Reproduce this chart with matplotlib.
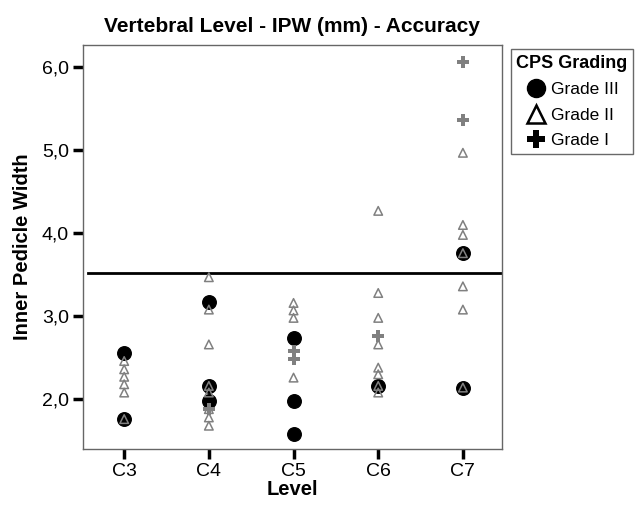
import matplotlib
matplotlib.use("Agg")
import matplotlib.pyplot as plt
from matplotlib.lines import Line2D

plt.rcParams['font.family'] = ['Liberation Sans', 'DejaVu Sans']

levels = ["C3", "C4", "C5", "C6", "C7"]

# Grade III (filled circles)
grade3 = {
    "C3": [2.56, 1.76],
    "C4": [3.17, 2.16, 1.98],
    "C5": [2.74, 1.98, 1.58],
    "C6": [2.16],
    "C7": [3.76, 2.14],
}
# Grade II (open triangles)
grade2 = {
    "C3": [2.46, 2.36, 2.27, 2.18, 2.08, 1.76],
    "C4": [3.47, 3.08, 2.66, 2.16, 2.08, 1.88, 1.78, 1.68],
    "C5": [3.16, 3.07, 2.98, 2.26],
    "C6": [4.27, 3.28, 2.98, 2.66, 2.38, 2.30, 2.16, 2.08],
    "C7": [4.97, 4.10, 3.98, 3.76, 3.36, 3.08, 2.14],
}
# Grade I (plus)
grade1 = {
    "C3": [],
    "C4": [1.88],
    "C5": [2.58, 2.48],
    "C6": [2.76],
    "C7": [6.07, 5.37],
}
threshold = 3.52
yticks = [2.0, 3.0, 4.0, 5.0, 6.0]

gray = "#808080"

fig = plt.figure(figsize=(6.38, 5.05), dpi=100)
ax = fig.add_axes([0.1296, 0.111, 0.657, 0.80])


def xy(d):
    xs, ys = [], []
    for i, lv in enumerate(levels):
        for v in d[lv]:
            xs.append(i + 1)
            ys.append(v)
    return xs, ys


x3, y3 = xy(grade3)
ax.scatter(x3, y3, marker='o', s=95, color='black', zorder=3)
x2, y2 = xy(grade2)
ax.scatter(x2, y2, marker='^', s=38, facecolors='none', edgecolors=gray,
           linewidths=1.1, zorder=4)
x1, y1 = xy(grade1)
ax.scatter(x1, y1, marker='P', s=80, color=gray, linewidths=0, zorder=5)

ax.axhline(threshold, xmin=0.012, xmax=1.0, color='black', lw=2, zorder=2)

ax.set_xlim(0.51, 5.46)
ax.set_ylim(1.40, 6.27)
ax.set_xticks(range(1, len(levels) + 1))
ax.set_xticklabels(levels)
ax.set_yticks(yticks)
ax.set_yticklabels([f"{v:.1f}".replace('.', ',') for v in yticks])
ax.tick_params(direction='out', length=7, width=2.5, labelsize=14,
               color='black', pad=3)

for sp in ax.spines.values():
    sp.set_color('#666666')
    sp.set_linewidth(1)

ax.set_title("Vertebral Level - IPW (mm) - Accuracy", fontsize=15,
             fontweight='bold', pad=9)
ax.set_xlabel("Level", fontsize=14.5, fontweight='bold', labelpad=0)
ax.set_ylabel("Inner Pedicle Width", fontsize=14.5, fontweight='bold',
              labelpad=7)

handles = [
    Line2D([], [], marker='o', ls='none', color='black', markersize=13),
    Line2D([], [], marker='^', ls='none', markerfacecolor='none',
           markeredgecolor='black', markeredgewidth=1.8, markersize=13),
    Line2D([], [], marker='P', ls='none', color='black', markersize=13,
           markeredgewidth=0),
]
leg = fig.legend(handles, ["Grade III", "Grade II", "Grade I"],
                 title="CPS Grading", loc='upper left',
                 bbox_to_anchor=(0.801, 0.902), frameon=True, fancybox=False,
                 fontsize=12.5, title_fontsize=13, handletextpad=0.25,
                 borderpad=0.3, labelspacing=0.6, handlelength=1.3,
                 borderaxespad=0)
leg.get_title().set_fontweight('bold')
leg.get_frame().set_edgecolor('#444444')
leg.get_frame().set_linewidth(1)

fig.savefig("out.png", dpi=100)
